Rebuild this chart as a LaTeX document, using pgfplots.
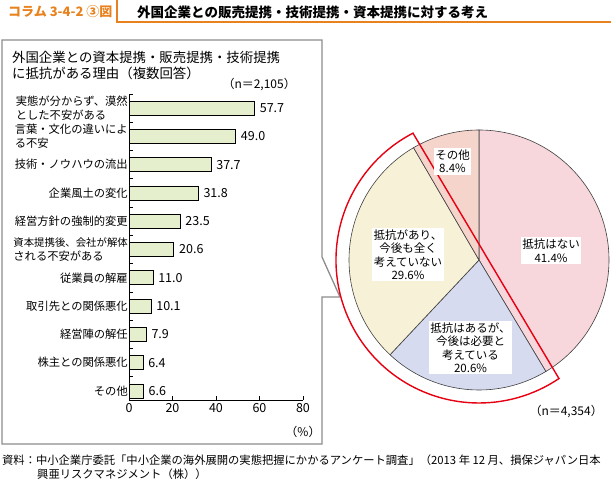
\documentclass[border=0pt]{standalone}
\usepackage{pgfplots}
\pgfplotsset{compat=1.18}
\usepackage{pgfplotstable}
\usepackage{fontspec}
\setmainfont{Noto Sans CJK JP}
\newcommand\fs[2]{\fontsize{#1bp}{#2bp}\selectfont}

\definecolor{hdrOrange}{HTML}{E8821E}
\definecolor{boxGray}{HTML}{8C8C8C}
\definecolor{barG}{HTML}{E6EFCD}
\definecolor{pinkS}{HTML}{F7D6DC}
\definecolor{blueS}{HTML}{D6DBEF}
\definecolor{creamS}{HTML}{F7F2D7}
\definecolor{salmonS}{HTML}{F5D4CB}
\definecolor{hiRed}{HTML}{E60012}

% reasons (bottom to top), percent
\pgfplotstableread{
i v
0 6.6
1 6.4
2 7.9
3 10.1
4 11.0
5 20.6
6 23.5
7 31.8
8 37.7
9 49.0
10 57.7
}\bartable

% attitude shares, clockwise from 12 o'clock
\pgfplotstableread{
value col
41.4 pinkS
20.6 blueS
29.6 creamS
8.4 salmonS
}\pietable

\begin{document}
\begin{tikzpicture}
\path[use as bounding box] (0,0) rectangle (611bp,479bp);

% header
\draw[hdrOrange, line width=1.2bp] (117bp,479bp) -- (117bp,457bp) -- (611bp,457bp);
\node[anchor=west, inner sep=0pt, text=hdrOrange, font=\fs{13}{15}\bfseries] at (8bp,467bp) {コラム 3-4-2 ③図};
\node[anchor=west, inner sep=0pt, font=\fs{13.5}{15}\bfseries] at (137bp,467bp) {外国企業との販売提携・技術提携・資本提携に対する考え};

% frame with pointer
\draw[boxGray, line width=1.3bp] (2bp,439bp) -- (322bp,439bp) -- (322bp,222bp) -- (340bp,182bp)
  -- (322bp,182bp) -- (322bp,35bp) -- (2bp,35bp) -- cycle;

\node[anchor=west, inner sep=0pt, font=\fs{13.4}{16}] at (12bp,422bp) {外国企業との資本提携・販売提携・技術提携};
\node[anchor=west, inner sep=0pt, font=\fs{13.4}{16}] at (12bp,406bp) {に抵抗がある理由（複数回答）};
\node[anchor=east, inner sep=0pt, font=\fs{12}{14}] at (296bp,394bp) {（n＝2,105）};

\begin{axis}[
  at={(129bp,79bp)}, anchor=south west,
  scale only axis, width=174bp, height=306bp,
  xbar, bar width=14bp,
  xmin=0, xmax=80, ymin=-0.32, ymax=10.5,
  axis x line*=bottom, axis y line*=left,
  axis line style={line width=0.8bp, -},
  xtick={0,20,...,80},
  ytick={0.5,1.5,...,10.5}, yticklabels={},
  extra y ticks={0,...,10},
  extra y tick labels={その他,株主との関係悪化,経営陣の解任,取引先との関係悪化,従業員の解雇,{{\fs{10.4}{14}資本提携後、会社が解体}\\される不安がある},経営方針の強制的変更,企業風土の変化,技術・ノウハウの流出,{言葉・文化の違いによ\\る不安},{実態が分からず、漠然\\とした不安がある}},
  extra y tick style={major tick length=0pt, yticklabel style={align=left, inner sep=1bp, font=\fs{11.3}{14}}},
  tick align=inside, major tick length=4bp,
  tick style={line width=0.8bp, black},
  xticklabel style={font=\fs{12.5}{14}},
  /pgf/number format/assume math mode=true,
  nodes near coords,
  nodes near coords style={anchor=west, inner sep=0pt, xshift=5bp, font=\fs{12.5}{14},
    /pgf/number format/.cd, fixed, fixed zerofill, precision=1},
  clip=false,
]
\addplot[fill=barG, draw=black, line width=0.7bp] table[x=v, y=i] {\bartable};
\end{axis}
\node[anchor=north, inner sep=0pt, font=\fs{12}{14}] at (303bp,53bp) {（\%）};

% pie
\begin{axis}[
  at={(479bp,219bp)}, anchor=center,
  scale only axis, width=260bp, height=260bp,
  xmin=-1, xmax=1, ymin=-1, ymax=1,
  hide axis, clip=false,
]
\gdef\acc{90}
\pgfplotstableforeachcolumnelement{value}\of\pietable\as\v{%
  \pgfplotstablegetelem{\pgfplotstablerow}{col}\of\pietable
  \let\c\pgfplotsretval
  \pgfmathsetmacro\anew{\acc-3.6*\v}%
  \edef\slice{\noexpand\filldraw[fill=\c, draw=black!75, line width=0.6bp]
    (axis cs:0,0) -- ++(\acc:130bp) arc[start angle=\acc, end angle=\anew, radius=130bp] -- cycle;}%
  \slice
  \global\let\acc\anew
}
\draw[hiRed, line width=1.4bp] (axis cs:0,0) ++(117.5:143bp)
  arc[start angle=117.5, end angle=304, radius=143bp] -- cycle;
\end{axis}

\tikzset{plab/.style={fill=white, inner sep=1.5bp, align=center, font=\fs{11.5}{13.5}}}
\node[plab] at (551bp,228.5bp) {抵抗はない\\41.4\%};
\node[plab] at (452.5bp,317.5bp) {その他\\8.4\%};
\node[plab] at (408bp,224.5bp) {抵抗があり、\\今後も全く\\考えていない\\29.6\%};
\node[plab] at (470.5bp,131.5bp) {抵抗はあるが、\\今後は必要と\\考えている\\20.6\%};
\node[anchor=east, inner sep=0pt, font=\fs{12}{14}] at (603bp,67bp) {（n＝4,354）};

% source
\node[anchor=west, inner sep=0pt, font=\fs{11.3}{13}] at (2bp,19bp) {資料：中小企業庁委託「中小企業の海外展開の実態把握にかかるアンケート調査」（2013 年 12 月、損保ジャパン日本};
\node[anchor=west, inner sep=0pt, font=\fs{11.3}{13}] at (37bp,5bp) {興亜リスクマネジメント（株））};
\end{tikzpicture}
\end{document}
